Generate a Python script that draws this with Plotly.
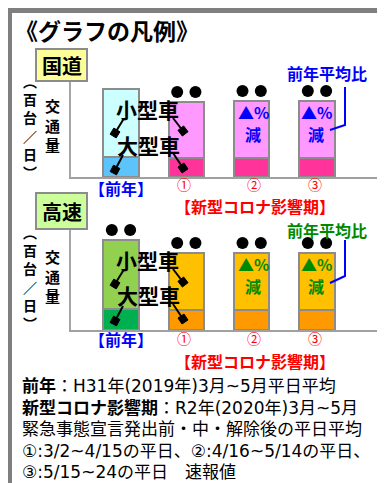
import math
import plotly.graph_objects as go

W, H = 385, 483
FONT = "Noto Sans CJK JP"
NOTE_FONT = "DejaVu Sans, Noto Sans CJK JP"

# ---- data ----
categories = ["前年", "①", "②", "③"]
national_large = [20, 19, 19, 19]
national_small = [68, 56, 57, 57]
express_large = [21, 20, 20, 20]
express_small = [69, 57, 57, 57]

nat_small_colors = ["#CCFFFF", "#FF99FF", "#FF99FF", "#FF99FF"]
nat_large_colors = ["#5CC4FA", "#FF3399", "#FF3399", "#FF3399"]
exp_small_colors = ["#92D050", "#FFC000", "#FFC000", "#FFC000"]
exp_large_colors = ["#00B050", "#FF9900", "#FF9900", "#FF9900"]

note_lines = [
    "<b>前年</b>：H31年(2019年)3月~5月平日平均",
    "<b>新型コロナ影響期</b>：R2年(2020年)3月~5月",
    "緊急事態宣言発出前・中・解除後の平日平均",
    "①:3/2~4/15の平日、②:4/16~5/14の平日、",
    "③:5/15~24の平日　速報値",
]

BAR_LINE = dict(color="#8C8C8C", width=2)
xpos = list(range(len(categories)))

def px(x, y):
    return x / W, 1 - y / H

fig = go.Figure()
panels = [
    ("x", "y", national_large, national_small, nat_large_colors, nat_small_colors),
    ("x2", "y2", express_large, express_small, exp_large_colors, exp_small_colors),
]
for xa, ya, large, small, lc, sc in panels:
    fig.add_trace(go.Bar(x=xpos, y=large, marker=dict(color=lc, line=BAR_LINE),
                         width=0.54, xaxis=xa, yaxis=ya, hoverinfo="skip"))
    fig.add_trace(go.Bar(x=xpos, y=small, marker=dict(color=sc, line=BAR_LINE),
                         width=0.54, xaxis=xa, yaxis=ya, hoverinfo="skip"))
    # the two dots above each bar
    totals = [l + s for l, s in zip(large, small)]
    dx, dy = [], []
    for xi, t in zip(xpos, totals):
        dx += [xi - 0.14, xi + 0.14]
        dy += [t + 10, t + 10]
    fig.add_trace(go.Scatter(x=dx, y=dy, mode="markers", xaxis=xa, yaxis=ya,
                             marker=dict(color="black", size=12, symbol="circle"),
                             cliponaxis=False, hoverinfo="skip"))

ann = []
def txt(x, y, s, size, color="black", bold=False, xanchor="center", yanchor="middle",
        family=FONT, angle=0):
    xx, yy = px(x, y)
    ann.append(dict(x=xx, y=yy, xref="paper", yref="paper", text=s, showarrow=False,
                    xanchor=xanchor, yanchor=yanchor, textangle=angle,
                    font=dict(family=family, size=size, color=color,
                              weight="bold" if bold else "normal")))

shapes = []
# white card on gray frame
x0, y1 = px(4, 5)
x1, y0 = px(381, 478)
shapes.append(dict(type="rect", xref="paper", yref="paper", x0=x0, x1=x1, y0=y0, y1=y1,
                   fillcolor="white", line=dict(width=0), layer="below"))

def box(xl, yt, xr, yb, fill):
    a, b = px(xl, yt)
    c, d = px(xr, yb)
    shapes.append(dict(type="rect", xref="paper", yref="paper", x0=a, x1=c, y0=d, y1=b,
                       fillcolor=fill, line=dict(color="#8C8C8C", width=2)))

def poly(points, color, width=2):
    path = ""
    for i, (x, y) in enumerate(points):
        a, b = px(x, y)
        path += ("M" if i == 0 else "L") + f"{a:.5f},{b:.5f}"
    shapes.append(dict(type="path", xref="paper", yref="paper", path=path,
                       line=dict(color=color, width=width)))

def leader(xs, ys, xe, ye):
    poly([(xs, ys), (xe, ye)], "black", 2)
    ddx, ddy = xe - xs, ye - ys
    L = math.hypot(ddx, ddy)
    ux, uy = ddx / L, ddy / L
    nx, ny = -uy, ux
    s = 3.6
    pts = [(xe + ux * s + nx * s, ye + uy * s + ny * s),
           (xe + ux * s - nx * s, ye + uy * s - ny * s),
           (xe - ux * s - nx * s, ye - uy * s - ny * s),
           (xe - ux * s + nx * s, ye - uy * s + ny * s)]
    path = ""
    for i, (x, y) in enumerate(pts):
        a, b = px(x, y)
        path += ("M" if i == 0 else "L") + f"{a:.5f},{b:.5f}"
    path += "Z"
    shapes.append(dict(type="path", xref="paper", yref="paper", path=path,
                       fillcolor="black", line=dict(color="black", width=1)))

# title
txt(5, 22, "《グラフの凡例》", 23, bold=True, xanchor="left")

# panel blocks
for idx, (name, fill) in enumerate([("国道", "#FFFF99"), ("高速", "#CCFF99")]):
    top, bot = [(41, 73), (185, 221)][idx]
    box(28, top, 79, bot, fill)
    txt(53.5, (top + bot) / 2, name, 20, bold=True)
    base = 0 if idx == 0 else 151
    # vertical unit label and caption (one multi-line text each)
    txt(22, 118.5 + base, "︵<br>百<br>台<br>／<br>日<br>︶", 14, bold=True)
    txt(44, 117 + base, "交<br>通<br>量", 15, bold=True)

# 小型車 / 大型車 labels and leaders
for ys, yl, off in [(101, 137, 0), (252, 287, 151)]:
    txt(139.5, ys, "小型車", 21, bold=True)
    txt(140, yl, "大型車", 21, bold=True)
    leader(115, 112 + off, 107, 125 + off)
    leader(115, 147 + off, 107, 162 + off)
    leader(165, 110 + off, 175, 123 + off)
    leader(165, 145 + off, 175, 160 + off)

# ▲% 減
for cx in [245, 308]:
    txt(cx, 104, "▲%", 16, color="#0000FF", bold=True)
    txt(cx, 126, "減", 16, color="#0000FF", bold=True)
    txt(cx, 255.5, "▲%", 16, color="#008A00", bold=True)
    txt(cx, 277.5, "減", 16, color="#008A00", bold=True)

# 前年平均比
txt(319, 65, "前年平均比", 16, color="#0000FF", bold=True)
poly([(337, 79), (337, 117), (322, 122)], "#0000FF", 2)
txt(319, 221.5, "前年平均比", 16, color="#008A00", bold=True)
poly([(337, 232), (337, 268), (322, 275)], "#0000FF", 2)

# category labels
for yb, yc, yn in [(180, 176, 198), (331, 330, 352.5)]:
    txt(112.5, yb, "【前年】", 16, color="#0000FF", bold=True)
    for cx, s in zip([176, 246, 307], categories[1:]):
        txt(cx, yc, s, 14, color="#FF0000")
    txt(247, yn, "【新型コロナ影響期】", 16, color="#FF0000", bold=True)

# notes
for s, yy in zip(note_lines, [378, 400, 421, 443, 464]):
    txt(12, yy, s, 17, xanchor="left", family=NOTE_FONT)

xr = [-0.765, 4.041]
axis_common = dict(showgrid=False, zeroline=False, showticklabels=False, ticks="",
                   fixedrange=True)
fig.update_layout(
    width=W, height=H, margin=dict(l=0, r=0, t=0, b=0),
    paper_bgcolor="#7F7F7F", plot_bgcolor="rgba(0,0,0,0)",
    barmode="stack", showlegend=False, bargap=0,
    xaxis=dict(domain=[63 / W, 377 / W], range=xr, anchor="y", showline=True,
               linecolor="#A0A0A0", linewidth=2, **axis_common),
    yaxis=dict(domain=[1 - 169 / H, 1 - 73 / H], range=[0, 96], anchor="x", showline=True,
               linecolor="#A6A6A6", linewidth=1.5, **axis_common),
    xaxis2=dict(domain=[63 / W, 377 / W], range=xr, anchor="y2", showline=True,
                linecolor="#A0A0A0", linewidth=2, **axis_common),
    yaxis2=dict(domain=[1 - 322 / H, 1 - 221 / H], range=[0, 101], anchor="x2", showline=True,
                linecolor="#A6A6A6", linewidth=1.5, **axis_common),
    annotations=ann, shapes=shapes,
)
fig.write_html("out.html")
